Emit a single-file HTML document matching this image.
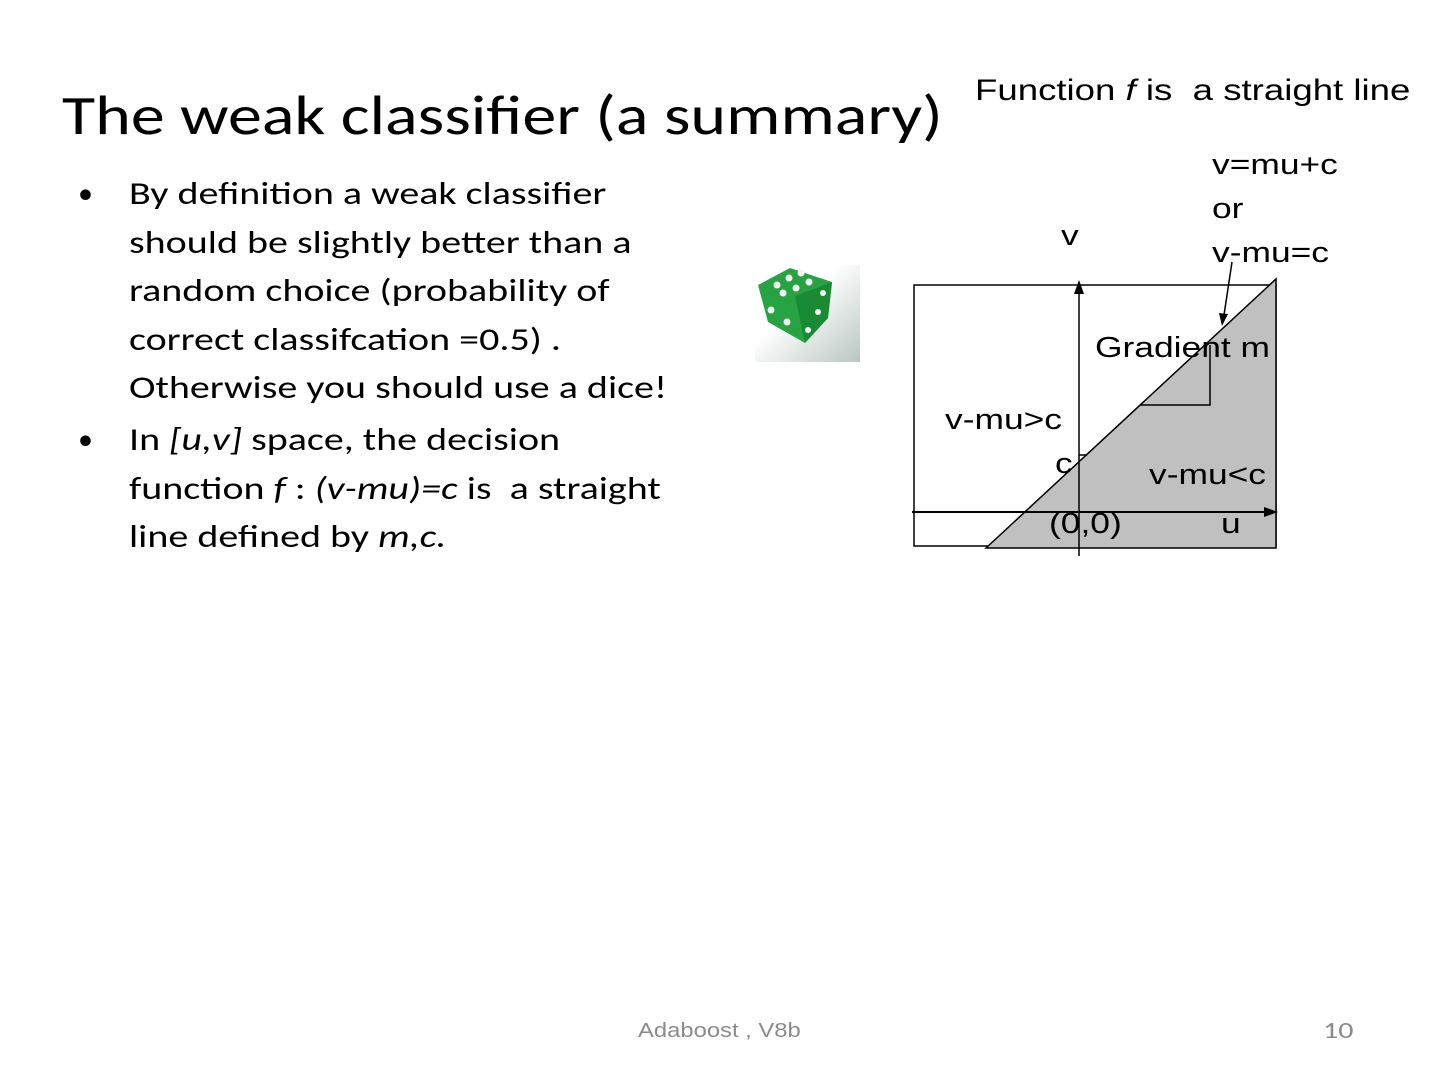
<!DOCTYPE html>
<html><head><meta charset="utf-8"><style>
body{margin:0;width:1440px;height:1080px;background:#fff;position:relative;font-family:"Liberation Sans",sans-serif;overflow:hidden}
.a{position:absolute;white-space:nowrap}
.s{transform:scaleX(1.22);transform-origin:left top}
.t{font-family:"Carlito","Liberation Sans",sans-serif}
</style></head><body>
<div class="a t" style="left:62px;top:82px;font-size:56px;color:#000;transform:scaleX(1.214);transform-origin:left top">The weak classifier (a summary)</div>
<div class="a s" style="left:975px;top:74px;font-size:30px">Function <i>f</i> is &nbsp;a straight line</div>
<div class="a s" style="left:1212px;top:143px;font-size:29px;line-height:44px">v=mu+c<br>or<br>v-mu=c</div>
<div class="a t" style="left:78px;top:170px;font-size:30px;line-height:48.5px">•</div>
<div class="a t" style="left:78px;top:416px;font-size:30px;line-height:48.5px">•</div>
<div class="a t" style="left:129px;top:170px;font-size:32px;line-height:48.5px;transform:scaleX(1.25);transform-origin:left top">By definition a weak classifier<br>should be slightly better than a<br>random choice (probability of<br>correct classifcation =0.5) .<br>Otherwise you should use a dice!</div>
<div class="a t" style="left:129px;top:416px;font-size:32px;line-height:48.5px;transform:scaleX(1.25);transform-origin:left top">In <i>[u,v]</i> space, the decision<br>function <i>f</i> : <i>(v-mu)=c</i> is &nbsp;a straight<br>line defined by <i>m,c.</i></div>
<svg class="a" style="left:0;top:0" width="1440" height="1080">
<defs><linearGradient id="g" x1="0" y1="0" x2="1" y2="1"><stop offset="0.4" stop-color="#fff"/><stop offset="1" stop-color="#b9c6c2"/></linearGradient></defs>
<rect x="755" y="265" width="105" height="97" fill="url(#g)"/>
<path d="M758 285 L790 268 L832 282 L828 318 L805 343 L768 322 Z" fill="#27a343"/>
<path d="M795 296 L832 282 L828 318 L805 343 Z" fill="#1b8a35"/>
<g fill="#f4f4f4"><circle cx="777" cy="285" r="3.5"/><circle cx="789" cy="278" r="3.5"/><circle cx="801" cy="273" r="3.5"/><circle cx="783" cy="293" r="3.5"/><circle cx="796" cy="288" r="3.5"/><circle cx="809" cy="282" r="3.5"/><circle cx="771" cy="310" r="3.5"/><circle cx="787" cy="322" r="3.5"/><circle cx="823" cy="293" r="3"/><circle cx="818" cy="312" r="3"/><circle cx="808" cy="330" r="3"/></g>
<rect x="914" y="285" width="362" height="261" fill="none" stroke="#000" stroke-width="1.5"/>
<polygon points="986,548 1276,279 1276,548" fill="#c0c0c0" stroke="#000" stroke-width="1.5"/>
<polyline points="1140,405 1210,405 1210,345" fill="none" stroke="#000" stroke-width="1.5"/>
<line x1="1079" y1="556" x2="1079" y2="292" stroke="#000" stroke-width="1.5"/>
<polygon points="1079,280 1074,294 1084,294" fill="#000"/>
<line x1="912" y1="512" x2="1266" y2="512" stroke="#000" stroke-width="2"/>
<polygon points="1278,512 1264,507 1264,517" fill="#000"/>
<line x1="1079" y1="455" x2="1087" y2="455" stroke="#000" stroke-width="1.5"/>
<line x1="1232" y1="262" x2="1224" y2="315" stroke="#000" stroke-width="1.5"/>
<polygon points="1222,326 1219,313 1228,314" fill="#000"/>
</svg>
<div class="a s" style="left:1061px;top:220px;font-size:29px">v</div>
<div class="a s" style="left:1095px;top:332px;font-size:29px">Gradient m</div>
<div class="a s" style="left:945px;top:404px;font-size:29px">v-mu&gt;c</div>
<div class="a s" style="left:1055px;top:448px;font-size:29px">c</div>
<div class="a s" style="left:1149px;top:459px;font-size:29px">v-mu&lt;c</div>
<div class="a s" style="left:1049px;top:508px;font-size:29px">(0,0)</div>
<div class="a s" style="left:1221px;top:508px;font-size:29px">u</div>
<div class="a" style="left:638px;top:1020px;font-size:20px;color:#8b8b8b;transform:scaleX(1.19);transform-origin:left top">Adaboost , V8b</div>
<div class="a t" style="left:1323px;top:1016px;font-size:24px;color:#8b8b8b;transform:scaleX(1.25);transform-origin:left top">10</div>
</body></html>
